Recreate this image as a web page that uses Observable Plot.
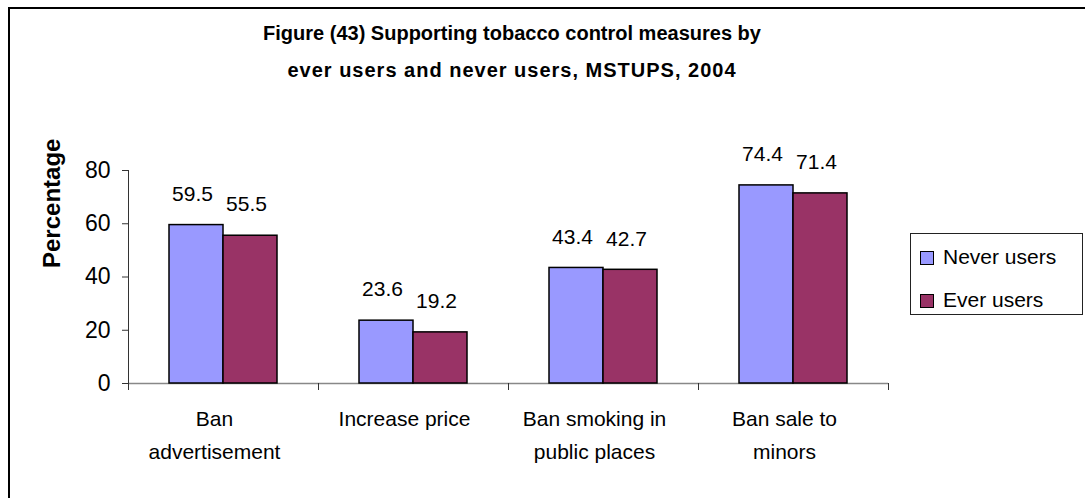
<!DOCTYPE html>
<html>
<head>
<meta charset="utf-8">
<script src="https://cdn.jsdelivr.net/npm/d3@7"></script>
<script src="https://cdn.jsdelivr.net/npm/@observablehq/plot@0.6"></script>
<style>
  body { margin: 0; background: #fff; font-family: "Liberation Sans", Arial, sans-serif; }
  #wrap { position: relative; width: 1085px; height: 498px; overflow: hidden; background: #fff; }
  #border { position: absolute; left: 8px; top: 7px; width: 1200px; height: 600px; border-top: 2px solid #000; border-left: 2px solid #000; }
  #chart { position: absolute; left: 0; top: 0; }
  #title { position: absolute; left: 12px; top: 15px; width: 1000px; text-align: center; font-weight: bold; font-size: 20px; line-height: 37px; color: #000; }
  #title .l2 { letter-spacing: 1px; }
  #legend { position: absolute; left: 910px; top: 233px; width: 173px; height: 82px; box-sizing: border-box; border: 1px solid #222; background: #fff; }
  .item { position: absolute; left: 9px; height: 21px; font-size: 21px; line-height: 21px; color: #000; white-space: nowrap; }
  .sw { display: inline-block; width: 12px; height: 12px; border: 1.5px solid #000; margin-right: 9px; vertical-align: -1px; }
</style>
</head>
<body>
<div id="wrap">
  <div id="border"></div>
  <div id="chart"></div>
  <div id="title"></div>
  <div id="legend"></div>
</div>
<script>
const titleLines = ["Figure (43) Supporting tobacco control measures by", "ever users and never users, MSTUPS, 2004"];
const categories = ["Ban advertisement", "Increase price", "Ban smoking in public places", "Ban sale to minors"];
const tickLabels = ["Ban\nadvertisement", "Increase price", "Ban smoking in\npublic places", "Ban sale to\nminors"];
const series = ["Never users", "Ever users"];
const neverUsers = [59.5, 23.6, 43.4, 74.4];
const everUsers = [55.5, 19.2, 42.7, 71.4];
const colors = ["#9999FF", "#993366"];
const yTicks = [0, 20, 40, 60, 80];
const yLabel = "Percentage";

const table = categories.flatMap((c, i) => [
  {category: c, series: series[0], value: neverUsers[i]},
  {category: c, series: series[1], value: everUsers[i]}
]);

const W = 1085, H = 498, mT = 170, mB = 115, mL = 128, mR = 197;
const innerH = H - mT - mB;

const chart = Plot.plot({
  width: W, height: H,
  marginTop: mT, marginBottom: mB, marginLeft: mL, marginRight: mR,
  style: {background: "none", fontFamily: "'Liberation Sans', Arial, sans-serif", overflow: "visible", color: "#000"},
  fx: {domain: categories, padding: 0, axis: null},
  x: {domain: series, paddingInner: 0, paddingOuter: 0.75, axis: null},
  y: {domain: [0, 80], axis: null},
  color: {domain: series, range: colors},
  marks: [
    Plot.ruleY([0], {stroke: "#888", strokeWidth: 1.3}),
    Plot.barY(table, {fx: "category", x: "series", y: "value", fill: "series", stroke: "#000", strokeWidth: 1.5}),
    Plot.text(table, {fx: "category", x: "series", y: "value", text: d => d.value.toFixed(1), dy: -31, dx: -4, fontSize: 21, lineAnchor: "middle", fill: "#000"}),
    Plot.frame({anchor: "left", facetAnchor: "left", stroke: "#333"}),
    Plot.frame({anchor: "left", insetTop: innerH, insetBottom: -6, stroke: "#333"}),
    Plot.frame({anchor: "right", insetTop: innerH, insetBottom: -6, stroke: "#333"}),
    Plot.axisY({ticks: yTicks, tickSize: 6, tickPadding: 12, fontSize: 23, label: null, stroke: "#333"}),
    Plot.axisFx({anchor: "bottom", tickSize: 0, tickPadding: 19, fontSize: 21, lineHeight: 1.57, dx: -9, label: null,
      tickFormat: d => tickLabels[categories.indexOf(d)]}),
    Plot.text([yLabel], {text: d => d, frameAnchor: "left", facetAnchor: "left", rotate: -90, dx: -76, dy: -9, fontSize: 24, fontWeight: "bold", fill: "#000"})
  ]
});
document.getElementById("chart").appendChild(chart);

const t = document.getElementById("title");
titleLines.forEach((s, i) => { const d = document.createElement("div"); d.className = "l" + (i + 1); d.textContent = s; t.appendChild(d); });

const lg = document.getElementById("legend");
const tops = [12, 55];
series.forEach((s, i) => {
  const it = document.createElement("div");
  it.className = "item";
  it.style.top = tops[i] + "px";
  const sw = document.createElement("span");
  sw.className = "sw";
  sw.style.background = colors[i];
  it.appendChild(sw);
  it.appendChild(document.createTextNode(s));
  lg.appendChild(it);
});
</script>
</body>
</html>
